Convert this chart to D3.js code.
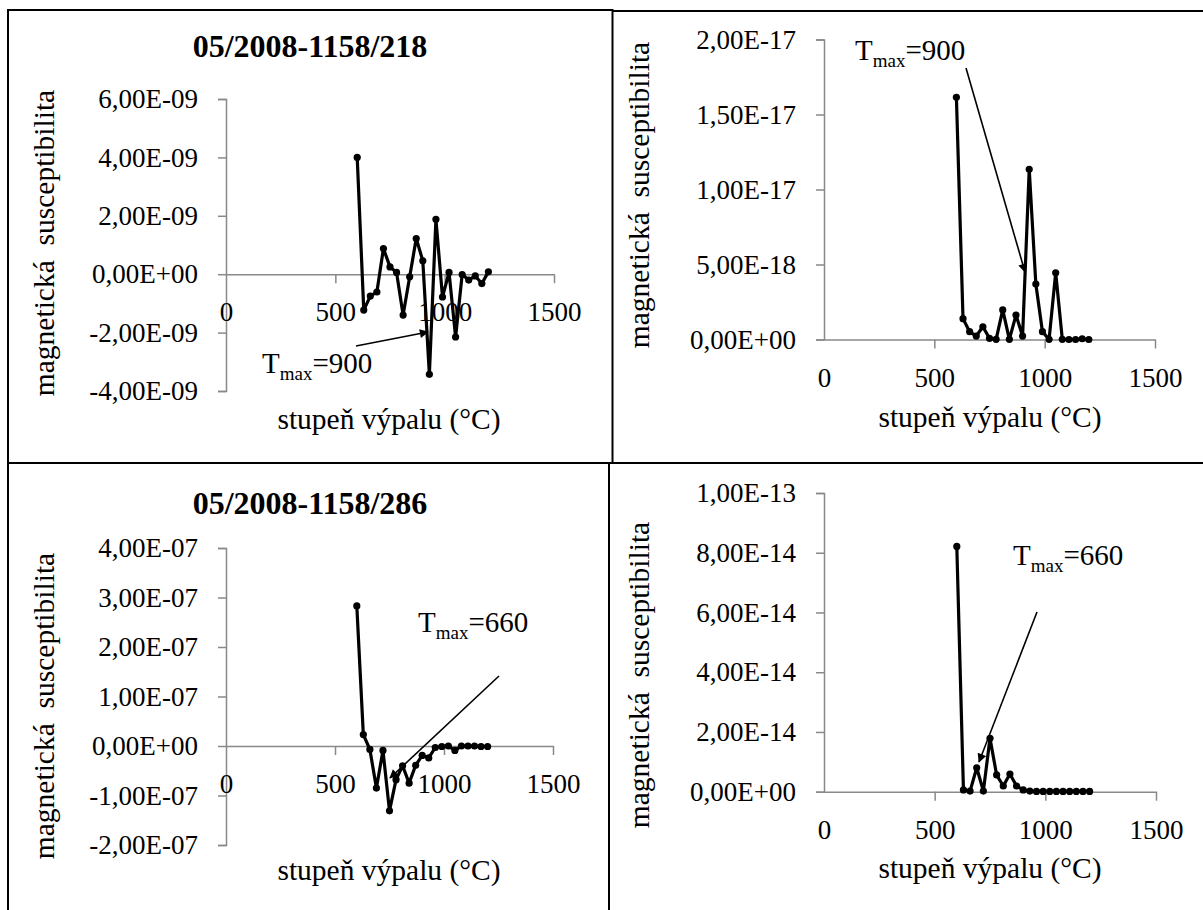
<!DOCTYPE html>
<html>
<head>
<meta charset="utf-8">
<script src="https://cdn.jsdelivr.net/npm/d3@7"></script>
<style>
  html, body { margin: 0; padding: 0; background: #fff; }
  svg { display: block; font-family: "Liberation Serif", "Times New Roman", serif; }
</style>
</head>
<body>
<svg id="sheet" width="1203" height="910"></svg>
<script>
// Firing temperatures (°C) shared by all four measurements
const temps = [600, 630, 660, 690, 720, 750, 780, 810, 840, 870, 900,
               930, 960, 990, 1020, 1050, 1080, 1110, 1140, 1170, 1200];

// Sample 05/2008-1158/218, susceptibility
const s218 = [4.0e-9, -1.23e-9, -0.75e-9, -0.61e-9, 0.88e-9, 0.25e-9, 0.06e-9, -1.40e-9,
              -0.09e-9, 1.22e-9, 0.46e-9, -3.43e-9, 1.88e-9, -0.78e-9, 0.06e-9, -2.15e-9,
              -0.01e-9, -0.20e-9, -0.06e-9, -0.32e-9, 0.08e-9];
// Sample 05/2008-1158/218, second series
const s218b = [1.615e-17, 1.39e-18, 0.52e-18, 0.23e-18, 0.85e-18, 0.08e-18, 0.01e-18, 1.97e-18,
               0.01e-18, 1.63e-18, 0.23e-18, 1.135e-17, 3.7e-18, 0.52e-18, 0.01e-18, 4.45e-18,
               0.01e-18, 0.0, 0.0, 0.05e-18, 0.0];
// Sample 05/2008-1158/286, susceptibility
const s286 = [2.83e-7, 0.23e-7, -0.07e-7, -0.85e-7, -0.09e-7, -1.31e-7, -0.68e-7, -0.40e-7,
              -0.75e-7, -0.39e-7, -0.19e-7, -0.24e-7, -0.03e-7, -0.01e-7, 0.0, -0.09e-7,
              0.0, 0.0, 0.0, -0.01e-7, -0.01e-7];
// Sample 05/2008-1158/286, second series
const s286b = [8.21e-14, 0.06e-14, 0.02e-14, 0.80e-14, 0.02e-14, 1.79e-14, 0.56e-14, 0.19e-14,
               0.59e-14, 0.19e-14, 0.06e-14, 0.02e-14, 0.01e-14, 0.01e-14, 0.01e-14, 0.01e-14,
               0.01e-14, 0.01e-14, 0.01e-14, 0.01e-14, 0.01e-14];

// Axis ticks
const xTicks = [0, 500, 1000, 1500];
const yTicks218 = [-4e-9, -2e-9, 0, 2e-9, 4e-9, 6e-9];
const yTicks218b = [0, 5e-18, 1e-17, 1.5e-17, 2e-17];
const yTicks286 = [-2e-7, -1e-7, 0, 1e-7, 2e-7, 3e-7, 4e-7];
const yTicks286b = [0, 2e-14, 4e-14, 6e-14, 8e-14, 1e-13];

// Texts
const titles = ["05/2008-1158/218", "05/2008-1158/286"];
const xTitle = "stupeň výpalu (°C)";
const yTitle = "magnetická  susceptibilita";
const tmaxValues = [900, 900, 660, 660];

// Excel-like scientific label: 6,00E-09
function sci(v) {
  if (v === 0) return "0,00E+00";
  const s = v.toExponential(2);           // e.g. "6.00e-9"
  const [m, e] = s.split("e");
  const ei = parseInt(e, 10);
  const es = (ei < 0 ? "-" : "+") + String(Math.abs(ei)).padStart(2, "0");
  return m.replace(".", ",") + "E" + es;
}

const svg = d3.select("#sheet");

// arrowhead marker
svg.append("defs").append("marker")
  .attr("id", "head")
  .attr("viewBox", "0 0 10 10")
  .attr("refX", 9).attr("refY", 5)
  .attr("markerWidth", 12).attr("markerHeight", 9)
  .attr("markerUnits", "userSpaceOnUse")
  .attr("orient", "auto")
  .append("path").attr("d", "M0,0L10,5L0,10Z").attr("fill", "#000");

// table frame
const frame = svg.append("g").attr("stroke", "#000").attr("stroke-width", 2).attr("fill", "none");
frame.append("path").attr("d", "M8,910V10H612.5V463");
frame.append("path").attr("d", "M612.5,11H1203");
frame.append("path").attr("d", "M8,463H1203");
frame.append("path").attr("d", "M609,463V910");

const panels = [
  { data: s218,  yTicks: yTicks218,  x0: 226, x1: 554,  yTop: 99,   yBot: 391,
    title: titles[0], titleX: 310, titleY: 57,
    xTitleX: 389, xTitleY: 429, yTitleX: 54, yTitleY: 243,
    tmax: tmaxValues[0], tX: 262, tY: 373, arrow: [356, 346, 428, 332] },
  { data: s218b, yTicks: yTicks218b, x0: 824, x1: 1155, yTop: 39.5, yBot: 339.5,
    title: null,
    xTitleX: 990, xTitleY: 427, yTitleX: 649, yTitleY: 195,
    tmax: tmaxValues[1], tX: 855, tY: 60, arrow: [966, 68, 1025, 272] },
  { data: s286,  yTicks: yTicks286,  x0: 226, x1: 553,  yTop: 548,  yBot: 845,
    title: titles[1], titleX: 310, titleY: 514,
    xTitleX: 389, xTitleY: 880, yTitleX: 54, yTitleY: 706,
    tmax: tmaxValues[2], tX: 418, tY: 632, arrow: [499, 676, 390, 778] },
  { data: s286b, yTicks: yTicks286b, x0: 824, x1: 1156, yTop: 493,  yBot: 791.7,
    title: null,
    xTitleX: 990, xTitleY: 878, yTitleX: 649, yTitleY: 675,
    tmax: tmaxValues[3], tX: 1013, tY: 565, arrow: [1037, 612, 979, 762] }
];

panels.forEach(p => {
  const g = svg.append("g");
  const x = d3.scaleLinear().domain([0, 1500]).range([p.x0, p.x1]);
  const y = d3.scaleLinear().domain(d3.extent(p.yTicks)).range([p.yBot, p.yTop]);

  // vertical axis
  const ya = g.append("g").attr("transform", `translate(${p.x0},0)`)
    .call(d3.axisLeft(y).tickValues(p.yTicks).tickFormat(sci).tickSize(8).tickPadding(20));
  // horizontal axis through zero
  const xa = g.append("g").attr("transform", `translate(0,${y(0)})`)
    .call(d3.axisBottom(x).tickValues(xTicks).tickFormat(d3.format("d"))
      .tickSizeInner(9).tickSizeOuter(0).tickPadding(19));
  [ya, xa].forEach(a => {
    a.attr("font-family", null);
    a.select(".domain").attr("stroke", "#898989").attr("stroke-width", 1.5);
    a.selectAll(".tick line").attr("stroke", "#898989").attr("stroke-width", 1.5);
    a.selectAll(".tick text").attr("fill", "#000")
      .style("font-family", "'Liberation Serif', serif").style("font-size", "27px");
  });
  xa.selectAll(".tick").filter(d => d === 0).select("line").remove();

  // series
  const pts = temps.map((t, i) => [t, p.data[i]]);
  g.append("path").datum(pts)
    .attr("fill", "none").attr("stroke", "#000").attr("stroke-width", 3.2)
    .attr("stroke-linejoin", "round")
    .attr("d", d3.line().x(d => x(d[0])).y(d => y(d[1])));
  g.selectAll("circle").data(pts).join("circle")
    .attr("cx", d => x(d[0])).attr("cy", d => y(d[1])).attr("r", 3.6).attr("fill", "#000");

  // titles
  if (p.title) {
    g.append("text").attr("x", p.titleX).attr("y", p.titleY).attr("text-anchor", "middle")
      .attr("font-weight", "bold").attr("font-size", 32).text(p.title);
  }
  g.append("text").attr("x", p.xTitleX).attr("y", p.xTitleY).attr("text-anchor", "middle")
    .attr("font-size", 29.5).text(xTitle);
  g.append("text").attr("transform", `translate(${p.yTitleX},${p.yTitleY}) rotate(-90)`)
    .attr("text-anchor", "middle").attr("font-size", 29.5).style("white-space", "pre").text(yTitle);

  // T_max annotation
  const t = g.append("text").attr("x", p.tX).attr("y", p.tY).attr("font-size", 29);
  t.append("tspan").text("T");
  t.append("tspan").attr("font-size", 19).attr("dy", 7).text("max");
  t.append("tspan").attr("dy", -7).text("=" + p.tmax);
  const a = p.arrow;
  g.append("line").attr("x1", a[0]).attr("y1", a[1]).attr("x2", a[2]).attr("y2", a[3])
    .attr("stroke", "#000").attr("stroke-width", 1.6).attr("marker-end", "url(#head)");
});
</script>
</body>
</html>
